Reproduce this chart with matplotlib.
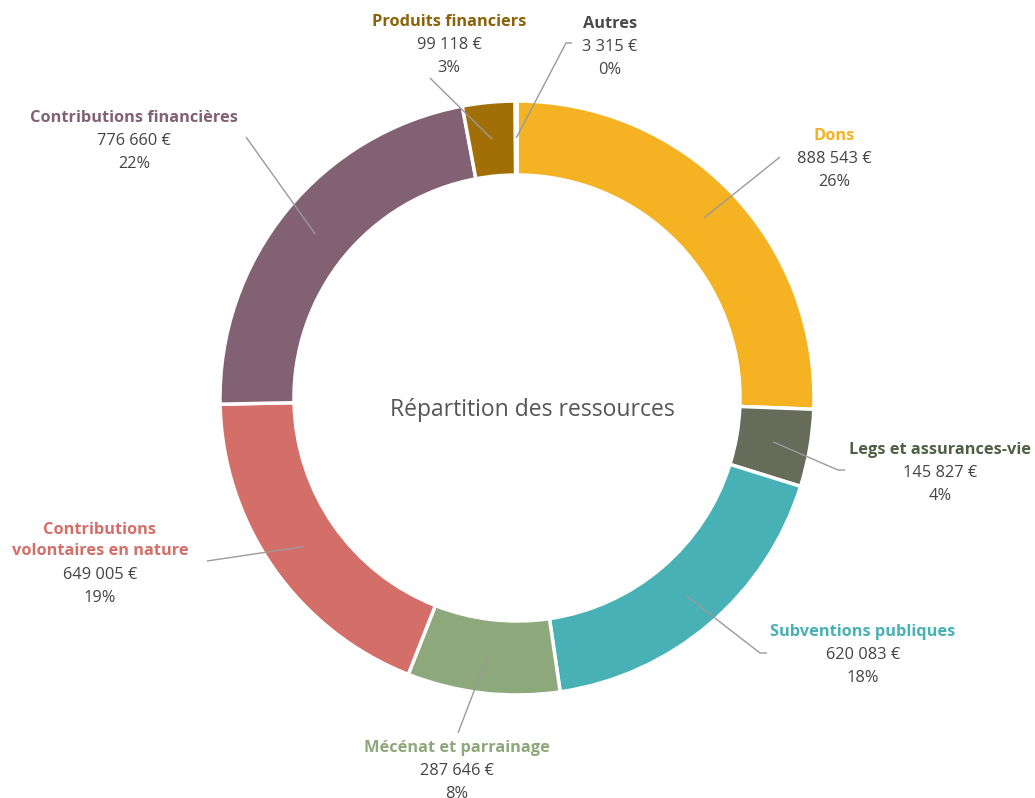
import numpy as np
import matplotlib.pyplot as plt

plt.rcParams['font.family'] = ['Open Sans', 'DejaVu Sans']

categories = ["Dons", "Legs et assurances-vie", "Subventions publiques",
              "Mécénat et parrainage", "Contributions\nvolontaires en nature",
              "Contributions financières", "Produits financiers", "Autres"]
values = [888543, 145827, 620083, 287646, 649005, 776660, 99118, 3315]
colors = ["#F5B223", "#666B5A", "#47B1B5", "#8DA87A", "#D46E68",
          "#826173", "#A26F07", "#8A8A8A"]
label_colors = ["#F5B223", "#4E6144", "#47B1B5", "#8DA87A", "#D46E68",
                "#826173", "#8A6207", "#4A4A4A"]

# label layout in pixels: (x centre, y of first title line, line start, elbow)
label_pos = [(834, 136, (780, 157), None),
             (940, 450, (845, 470), (838, 470)),
             (863, 632, (767, 653), (760, 653)),
             (457, 748, (458, 733), None),
             (100, 529, (207, 561), None),
             (134, 118, (246, 137), None),
             (449, 22, (430, 78), None),
             (610, 24, (572, 43), (566, 43))]

W, H = 1035, 798
cx, cy = 517, 398
R, width = 297, 74
fs = 11.8

fig = plt.figure(figsize=(W / 100, H / 100), dpi=100)
ax = fig.add_axes([0, 0, 1, 1])

wedges, _ = ax.pie(values, colors=colors, radius=R, startangle=90, counterclock=False,
                   wedgeprops=dict(width=width, edgecolor='white', linewidth=2.5))
ax.set_xlim(-cx, W - cx)
ax.set_ylim(cy - H, cy)
ax.set_aspect('equal')
ax.axis('off')

ax.text(532 - cx, cy - 410, "Répartition des ressources", ha='center', va='center',
        fontsize=16.5, color='#555555')

def px(p):
    return (p[0] - cx, cy - p[1])

total = sum(values)
cum = 0
for i, v in enumerate(values):
    mid = cum + v / 2
    cum += v
    ang = np.deg2rad(90 - 360 * mid / total)
    rm = R - width / 2
    end = (rm * np.cos(ang), rm * np.sin(ang))
    xc, yt, start, elbow = label_pos[i]
    pts = [px(start)]
    if elbow:
        pts.append(px(elbow))
    pts.append(end)
    xs, ys = zip(*pts)
    ax.plot(xs, ys, color='#9A9A9A', lw=1, solid_capstyle='butt')
    title = categories[i]
    nlines = title.count("\n") + 1
    ty = yt + 11.5 * (nlines - 1)
    ax.text(xc - cx, cy - ty, title, ha='center', va='center', fontsize=fs,
            fontweight='bold', color=label_colors[i], linespacing=1.35)
    y2 = yt + 23 * nlines
    val = f"{v:,}".replace(",", " ") + " €"
    ax.text(xc - cx, cy - y2, val, ha='center', va='center', fontsize=fs,
            color='#444444')
    ax.text(xc - cx, cy - (y2 + 23), f"{round(100 * v / total)}%", ha='center',
            va='center', fontsize=fs, color='#444444')

fig.savefig("out.png", dpi=100)
